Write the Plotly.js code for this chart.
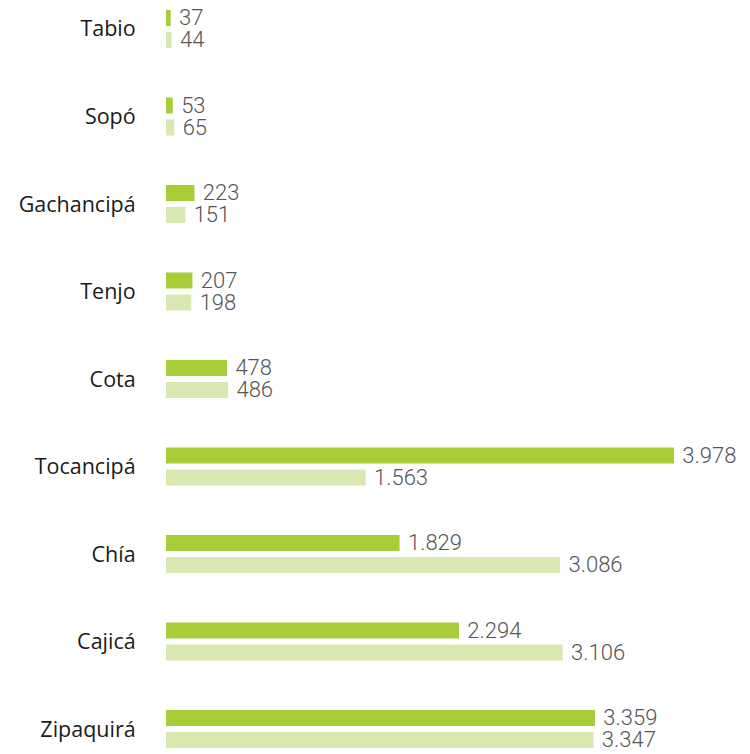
<!DOCTYPE html>
<html>
<head>
<meta charset="utf-8">
<script src="https://cdn.plot.ly/plotly-3.0.1.min.js"></script>
<style>html,body{margin:0;padding:0;background:#fff;}#chart{width:750px;height:754px;}</style>
</head>
<body>
<div id="chart"></div>
<script>
const categories = ["Tabio", "Sopó", "Gachancipá", "Tenjo", "Cota", "Tocancipá", "Chía", "Cajicá", "Zipaquirá"];
const seriesA = [37, 53, 223, 207, 478, 3978, 1829, 2294, 3359];
const seriesB = [44, 65, 151, 198, 486, 1563, 3086, 3106, 3347];

function fmt(v) {
  return String(v).replace(/\B(?=(\d{3})+(?!\d))/g, ".");
}

const textFont = {family: "Roboto", size: 22, color: "#555555", weight: 300};

const traces = [
  {
    type: "bar", orientation: "h", y: categories, x: seriesA,
    marker: {color: "#a7ce39"},
    width: 0.183, offset: -0.217,
    text: seriesA.map(v => " " + fmt(v)), textposition: "outside",
    textfont: textFont, cliponaxis: false, constraintext: "none",
    hoverinfo: "x+y"
  },
  {
    type: "bar", orientation: "h", y: categories, x: seriesB,
    marker: {color: "#d9e7b1"},
    width: 0.183, offset: 0.034,
    text: seriesB.map(v => " " + fmt(v)), textposition: "outside",
    textfont: textFont, cliponaxis: false, constraintext: "none",
    hoverinfo: "x+y"
  }
];

const layout = {
  width: 750, height: 754,
  margin: {l: 166, r: 0, t: 0, b: 0},
  paper_bgcolor: "#ffffff", plot_bgcolor: "#ffffff",
  showlegend: false,
  barmode: "group",
  xaxis: {range: [0, 4573], showgrid: false, zeroline: false, showticklabels: false, showline: false},
  yaxis: {
    type: "category", range: [8.286, -0.331],
    showgrid: false, zeroline: false, showline: false,
    ticks: "outside", ticklen: 25, tickcolor: "rgba(0,0,0,0)",
    tickfont: {family: "'Open Sans'", size: 21.5, color: "#1a1a1a", weight: 400}
  }
};

Plotly.newPlot("chart", traces, layout, {displayModeBar: false, staticPlot: true});
</script>
</body>
</html>
